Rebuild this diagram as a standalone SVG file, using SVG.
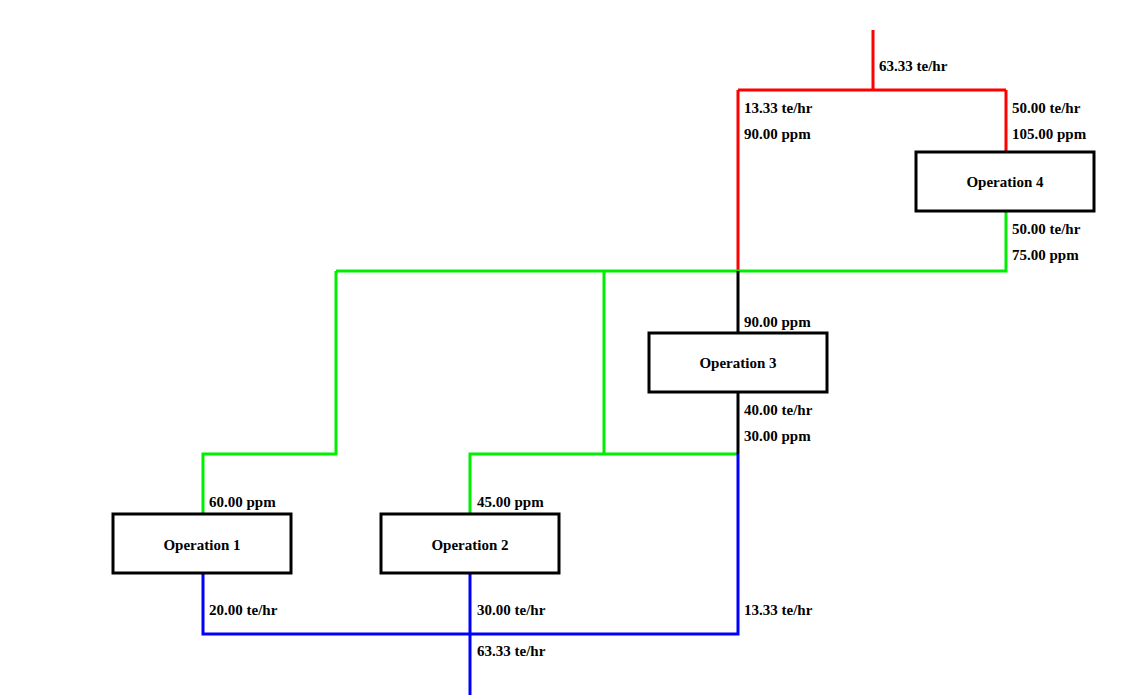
<svg xmlns="http://www.w3.org/2000/svg" width="1131" height="700" viewBox="0 0 1131 700">
<style>
.r{stroke:#ff0000}.g{stroke:#00ee00}.b{stroke:#0000ff}.k{stroke:#000000}
#conn path{fill:none;stroke-width:3}
.box{fill:#ffffff;stroke:#000000;stroke-width:3}
text{font-family:"Liberation Serif","Times New Roman",serif;font-weight:bold;font-size:15px;fill:#000000}
.c{text-anchor:middle}
</style>
<rect width="1131" height="700" fill="#ffffff"/>
<g id="conn">
<path class="r" d="M873 30V90M738 90H1006M738 90V271M1006 90V152"/>
<path class="g" d="M1006 212V271H336M336 271V454H203V514M604 271V454M470 514V454H738"/>
<path class="k" d="M738 271V333M738 392V454"/>
<path class="b" d="M738 454V634H203V574M470 574V695"/>
</g>
<g id="op4"><rect class="box" x="916" y="152" width="178" height="59"/><text class="c" x="1005" y="187">Operation 4</text></g>
<g id="op3"><rect class="box" x="649" y="333" width="178" height="59"/><text class="c" x="738" y="368">Operation 3</text></g>
<g id="op1"><rect class="box" x="113" y="514" width="178" height="59"/><text class="c" x="202" y="550">Operation 1</text></g>
<g id="op2"><rect class="box" x="381" y="514" width="178" height="59"/><text class="c" x="470" y="550">Operation 2</text></g>
<g id="labels">
<text x="879" y="71">63.33 te/hr</text>
<text x="744" y="113">13.33 te/hr</text>
<text x="744" y="139">90.00 ppm</text>
<text x="1012" y="113">50.00 te/hr</text>
<text x="1012" y="139">105.00 ppm</text>
<text x="1012" y="234">50.00 te/hr</text>
<text x="1012" y="260">75.00 ppm</text>
<text x="744" y="327">90.00 ppm</text>
<text x="744" y="415">40.00 te/hr</text>
<text x="744" y="441">30.00 ppm</text>
<text x="209" y="507">60.00 ppm</text>
<text x="477" y="507">45.00 ppm</text>
<text x="209" y="615">20.00 te/hr</text>
<text x="477" y="615">30.00 te/hr</text>
<text x="744" y="615">13.33 te/hr</text>
<text x="477" y="656">63.33 te/hr</text>
</g>
</svg>
